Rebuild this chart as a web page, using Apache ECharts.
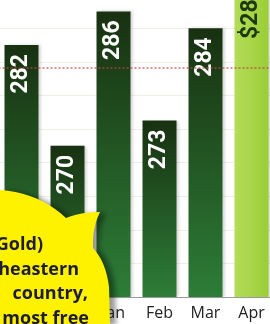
<!DOCTYPE html>
<html>
<head>
<meta charset="utf-8">
<script src="https://cdn.jsdelivr.net/npm/echarts@6/dist/echarts.min.js"></script>
<style>
  html, body { margin: 0; padding: 0; background: #fff; }
  #chart { width: 270px; height: 324px; }
</style>
</head>
<body>
<div id="chart"></div>
<script>
// monthly prices, last month highlighted
const months = ['Nov', 'Dec', 'Jan', 'Feb', 'Mar', 'Apr']
const prices = [282, 270, 286, 273, 284, 289]
const averagePrice = 279.3
const yMin = 252
const yMax = 292
const yInterval = 4

// callout text, cut by the left edge
const calloutLines = ['Gold)', 'heastern', 'country,', 'most free']
const calloutRightEdges = [43, 79, 88, 89]

const darkGreen = {
  type: 'linear', x: 0, y: 0, x2: 0, y2: 1,
  colorStops: [
    { offset: 0, color: '#183111' },
    { offset: 1, color: '#2d7d37' }
  ]
}
const lightGreen = {
  type: 'linear', x: 0, y: 0, x2: 1, y2: 0,
  colorStops: [
    { offset: 0, color: '#b4dd58' },
    { offset: 1, color: '#9acd36' }
  ]
}

const lastIndex = months.length - 1
const barData = prices.map((v, i) => {
  if (i !== lastIndex) {
    return v
  }
  return {
    value: v,
    itemStyle: { color: lightGreen },
    label: { color: '#1c3a12', distance: 0 }
  }
})

// scalloped callout outline, built from quadratic curves
function quadPoints(p0, c, p1, steps) {
  const pts = []
  for (let k = 1; k <= steps; k++) {
    const t = k / steps
    const a = (1 - t) * (1 - t)
    const b = 2 * (1 - t) * t
    const d = t * t
    pts.push([a * p0[0] + b * c[0] + d * p1[0], a * p0[1] + b * c[1] + d * p1[1]])
  }
  return pts
}

const bubblePoints = [[0, 190]]
  .concat(quadPoints([0, 190], [40, 193], [66, 218], 10))
  .concat(quadPoints([66, 218], [80, 212], [100, 212], 6))
  .concat(quadPoints([100, 212], [92, 228], [93, 248], 6))
  .concat(quadPoints([93, 248], [106, 262], [109, 287], 8))
  .concat([[110, 324], [0, 324]])

const calloutText = calloutLines.map((line, i) => ({
  type: 'text',
  z: 101,
  x: calloutRightEdges[i],
  y: 245 + i * 24.5,
  style: {
    text: line,
    fill: '#1d1d3a',
    font: 'bold 18px "Open Sans"',
    align: 'right',
    verticalAlign: 'middle'
  }
}))

const chart = echarts.init(document.getElementById('chart'), null, { renderer: 'canvas' })

chart.setOption({
  animation: false,
  grid: {
    left: -1.5,
    right: -4.5,
    top: -39,
    bottom: 27,
    containLabel: false,
    outerBoundsMode: 'none'
  },
  xAxis: {
    type: 'category',
    data: months,
    z: 10,
    axisTick: { show: false },
    axisLine: {
      lineStyle: { color: '#9a9a9a', width: 1 }
    },
    axisLabel: {
      interval: 0,
      hideOverlap: false,
      color: '#222',
      fontFamily: 'Open Sans',
      fontSize: 16,
      margin: 8
    }
  },
  yAxis: {
    type: 'value',
    min: yMin,
    max: yMax,
    startValue: yMin,
    interval: yInterval,
    axisLabel: { show: false },
    axisLine: { show: false },
    axisTick: { show: false },
    splitLine: {
      lineStyle: { color: '#efefe8', width: 1 }
    }
  },
  series: [
    {
      type: 'bar',
      data: barData,
      barWidth: 34,
      clip: false,
      itemStyle: {
        color: darkGreen,
        shadowColor: 'rgba(0, 0, 0, 0.18)',
        shadowBlur: 3,
        shadowOffsetX: 2
      },
      label: {
        show: true,
        position: 'insideTop',
        rotate: 90,
        align: 'right',
        verticalAlign: 'middle',
        distance: 9,
        color: '#fff',
        fontFamily: 'Roboto',
        fontWeight: 'bold',
        fontSize: 23,
        formatter: (p) => (p.dataIndex === lastIndex ? '$' : '') + p.value
      },
      markLine: {
        silent: true,
        symbol: 'none',
        z: 5,
        label: { show: false },
        lineStyle: {
          color: 'rgba(190, 70, 70, 0.6)',
          type: 'dotted',
          width: 2
        },
        data: [{ yAxis: averagePrice }]
      }
    }
  ],
  graphic: [
    {
      type: 'polygon',
      z: 100,
      shape: { points: bubblePoints },
      style: {
        fill: '#fff200',
        shadowColor: 'rgba(0, 0, 0, 0.4)',
        shadowBlur: 5,
        shadowOffsetX: 6,
        shadowOffsetY: 1
      }
    },
    ...calloutText
  ]
})
</script>
</body>
</html>
